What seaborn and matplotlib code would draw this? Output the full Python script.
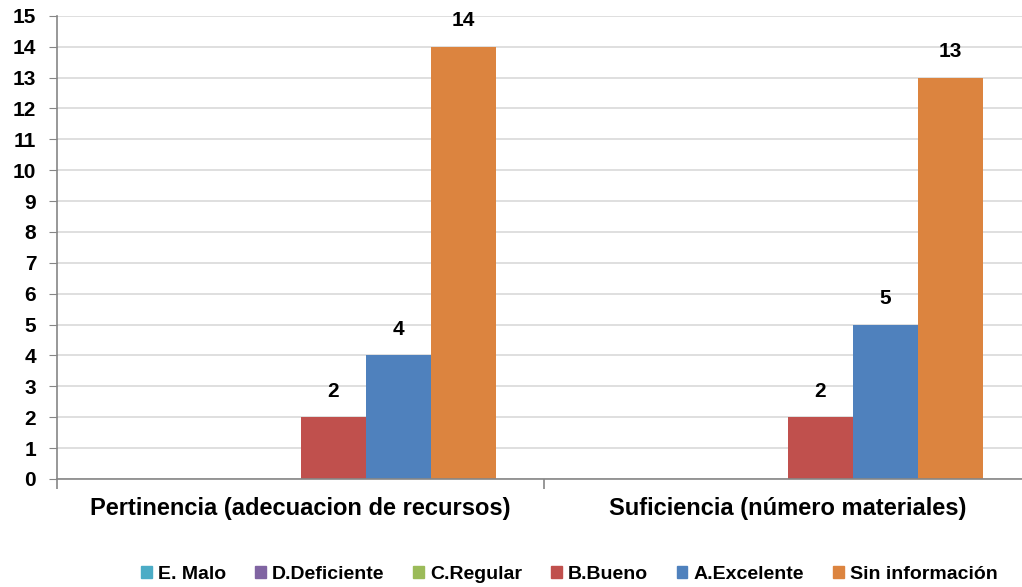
import pandas as pd
import seaborn as sns
import matplotlib.pyplot as plt
from matplotlib.ticker import MultipleLocator, FixedLocator

categories = ['Pertinencia (adecuacion de recursos)', 'Suficiencia (número materiales)']
series = ['E. Malo', 'D.Deficiente', 'C.Regular', 'B.Bueno', 'A.Excelente', 'Sin información']
malo = [0, 0]
deficiente = [0, 0]
regular = [0, 0]
bueno = [2, 2]
excelente = [4, 5]
sin_info = [14, 13]
colors = ['#4bacc6', '#8064a2', '#9bbb59', '#c0504d', '#4f81bd', '#dc843f']

# long-format table for seaborn
values = [malo, deficiente, regular, bueno, excelente, sin_info]
rows = []
for s, vals in zip(series, values):
    for c, v in zip(categories, vals):
        rows.append({'Categoria': c, 'Serie': s, 'Valor': v})
df = pd.DataFrame(rows)

sns.set_style('white')
plt.rcParams['font.family'] = ['Liberation Sans', 'DejaVu Sans']
plt.rcParams['font.weight'] = 'bold'
plt.rcParams['text.color'] = 'black'
plt.rcParams['xtick.color'] = 'black'
plt.rcParams['ytick.color'] = 'black'

fig = plt.figure(figsize=(10.22, 5.87), dpi=100)
ax = fig.add_axes([0.0558, 0.184, 0.9442, 0.789])

sns.barplot(data=df, x='Categoria', y='Valor', hue='Serie', hue_order=series,
            order=categories, palette=colors, width=0.8, saturation=1,
            linewidth=0, ax=ax, legend=True)

# value labels, skip zeros
for cont in ax.containers:
    labels = ['%d' % b.get_height() if b.get_height() > 0 else '' for b in cont]
    ax.bar_label(cont, labels=labels, padding=12, fontsize=15, fontweight='bold', color='black')

ax.set_ylim(0, 15)
ax.set_xlim(-0.5, 1.48)
ax.yaxis.set_major_locator(MultipleLocator(1))
ax.grid(axis='y', color='#d9d9d9', linewidth=1.2)
ax.set_axisbelow(True)
ax.set_xlabel('')
ax.set_ylabel('')

for side in ['top', 'right']:
    ax.spines[side].set_visible(False)
for side in ['left', 'bottom']:
    ax.spines[side].set_color('#868686')
    ax.spines[side].set_linewidth(1.2)

ax.tick_params(axis='y', which='major', length=6, color='#868686', pad=9,
               labelsize=15, left=True, labelcolor='black')
ax.tick_params(axis='x', which='major', length=0, pad=13, labelsize=17, labelcolor='black')
ax.xaxis.set_minor_locator(FixedLocator([-0.5, 0.5]))
ax.tick_params(axis='x', which='minor', length=7, color='#868686', bottom=True, width=1.2)
for lab in ax.get_xticklabels() + ax.get_yticklabels():
    lab.set_fontweight('bold')

ax.get_legend().remove()
handles = [plt.Rectangle((0, 0), 1, 1, color=c) for c in colors]
fig.legend(handles, series, loc='center', bbox_to_anchor=(0.557, 0.022), ncol=6,
           frameon=False, handlelength=0.55, handleheight=0.55, handletextpad=0.3,
           columnspacing=1.5, prop={'size': 14, 'weight': 'bold'})

fig.savefig('out.png', dpi=100)
